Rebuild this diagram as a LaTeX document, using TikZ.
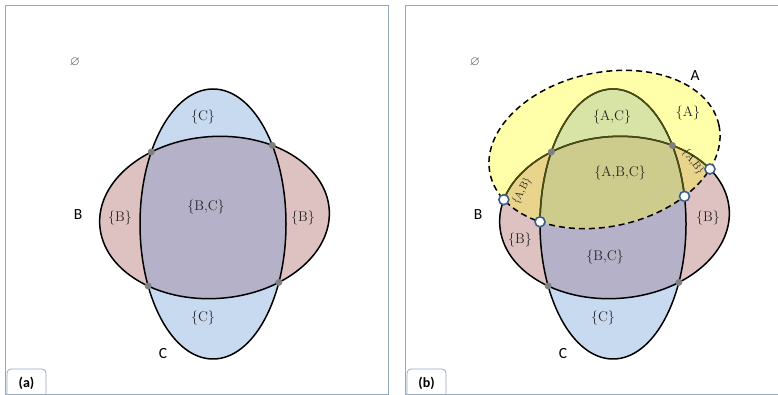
\documentclass[tikz,border=0pt]{standalone}
\usepackage{amssymb}
\usepackage{fontspec}
\newfontfamily\calibri{Carlito}
\usetikzlibrary{intersections}

\definecolor{onlyA}{RGB}{255,255,170}
\definecolor{onlyB}{RGB}{222,193,193}
\definecolor{onlyC}{RGB}{200,218,240}
\definecolor{fillAB}{RGB}{232,212,138}
\definecolor{fillAC}{RGB}{215,228,165}
\definecolor{fillBC}{RGB}{180,177,200}
\definecolor{fillABC}{RGB}{205,204,140}
\definecolor{olivedark}{RGB}{75,78,20}
\definecolor{framecol}{RGB}{150,168,192}
\definecolor{markblue}{RGB}{60,95,140}

\newcommand{\ovalA}{(204.5,245.5) ellipse [x radius=117pt, y radius=77pt]}
\newcommand{\ovalB}{(214.5,177.5) ellipse [x radius=115pt, y radius=81pt]}
\newcommand{\ovalC}{(213,171) ellipse [x radius=73pt, y radius=135pt]}

\begin{document}
\begin{tikzpicture}[
    x=1pt, y=1pt,
    tiltA/.style={rotate around={12:(204.5,245.5)}},
    tiltB/.style={rotate around={4:(214.5,177.5)}},
    outline/.style={line width=1.5pt},
    region/.style={font=\fontsize{14}{16}\selectfont, text=black!85},
    smallregion/.style={font=\fontsize{10.5}{12}\selectfont, text=black!85, inner sep=1pt},
    setname/.style={font=\calibri\fontsize{15.5}{18}\selectfont},
    nullset/.style={text=black!70, font=\fontsize{13}{16}\selectfont},
    crossing/.style={fill=black!50},
    opening/.style={fill=white, draw=markblue, line width=1.6pt},
    panel/.style={draw=framecol, line width=0.8pt},
    tag/.style={draw=framecol, rounded corners=4pt, line width=0.8pt,
        font=\calibri\bfseries\fontsize{14}{16}\selectfont,
        minimum width=39pt, minimum height=29pt}
]
\useasboundingbox (0,0) rectangle (778,395);

% ---------- panel (a) ----------
\draw[panel] (5,0.5) rectangle (388,390);
\node[tag] (taga) at (26.5,11.5) {(a)};

\fill[onlyB, tiltB] \ovalB;
\fill[onlyC] \ovalC;
\begin{scope}
    \clip[tiltB] \ovalB;
    \fill[fillBC] \ovalC;
\end{scope}
\draw[outline, tiltB, name path=Ba] \ovalB;
\draw[outline, name path=Ca] \ovalC;

% crossings of B and C
\fill[crossing, name intersections={of=Ba and Ca, name=bca, total=\t}]
    \foreach \k in {1,...,\t} {(bca-\k) circle (3.5pt)};

\node[nullset] (nulla) at (75,333) {$\varnothing$};
\node[setname] (nameBa) at (78,180) {B};
\node[setname] (nameCa) at (163,41) {C};

\node[region] (Ctopa) at (203,278) {\{C\}};
\node[region] (Cbota) at (203,77) {\{C\}};
\node[region] (Blefta) at (120,177) {\{B\}};
\node[region] (Brighta) at (303,177) {\{B\}};
\node[region] (BCa) at (206,188) {\{B,C\}};

% ---------- panel (b) ----------
\begin{scope}[xshift=400pt]
\draw[panel] (5,0.5) rectangle (378.5,390);
\node[tag] (tagb) at (26.5,11.5) {(b)};

% base fills
\fill[onlyA, tiltA] \ovalA;
\fill[onlyB, tiltB] \ovalB;
\fill[onlyC] \ovalC;
\begin{scope}
    \clip[tiltB] \ovalB;
    \fill[fillBC] \ovalC;
\end{scope}

% parts inside A
\begin{scope}
    \clip[tiltA] \ovalA;
    \fill[fillAB, tiltB] \ovalB;
    \fill[fillAC] \ovalC;
    \clip[tiltB] \ovalB;
    \fill[fillABC] \ovalC;
\end{scope}

\draw[outline, tiltB, name path=Bb] \ovalB;
\draw[outline, name path=Cb] \ovalC;
\begin{scope}
    \clip[tiltA] \ovalA;
    \draw[outline, draw=olivedark, tiltB] \ovalB;
    \draw[outline, draw=olivedark] \ovalC;
\end{scope}
\draw[outline, dash pattern=on 6pt off 4pt, tiltA, name path=Ab] \ovalA;

% crossings
\fill[crossing, name intersections={of=Bb and Cb, name=bcb, total=\t}]
    \foreach \k in {1,...,\t} {(bcb-\k) circle (3.5pt)};
\filldraw[opening, name intersections={of=Ab and Bb, name=abb, total=\t}]
    \foreach \k in {1,...,\t} {(abb-\k) circle (5pt)};
\filldraw[opening, name intersections={of=Ab and Cb, name=acb, total=\t}]
    \foreach \k in {1,...,\t} {(acb-\k) circle (5pt)};

\node[nullset] (nullb) at (75,333) {$\varnothing$};
\node[setname] (nameAb) at (295,319) {A};
\node[setname] (nameBb) at (78,180) {B};
\node[setname] (nameCb) at (163,41) {C};

\node[region] (ACb) at (212,278) {\{A,C\}};
\node[region] (Ab) at (288,282) {\{A\}};
\node[region] (ABCb) at (220,222) {\{A,B,C\}};
\node[smallregion, rotate=62] (ABleftb) at (122,204) {\{A,B\}};
\node[smallregion, rotate=-55] (ABrightb) at (293,233) {\{A,B\}};
\node[region] (Bleftb) at (120,155) {\{B\}};
\node[region] (Brightb) at (308,177) {\{B\}};
\node[region] (BCb) at (205,138) {\{B,C\}};
\node[region] (Cbotb) at (203,77) {\{C\}};
\end{scope}
\end{tikzpicture}
\end{document}
